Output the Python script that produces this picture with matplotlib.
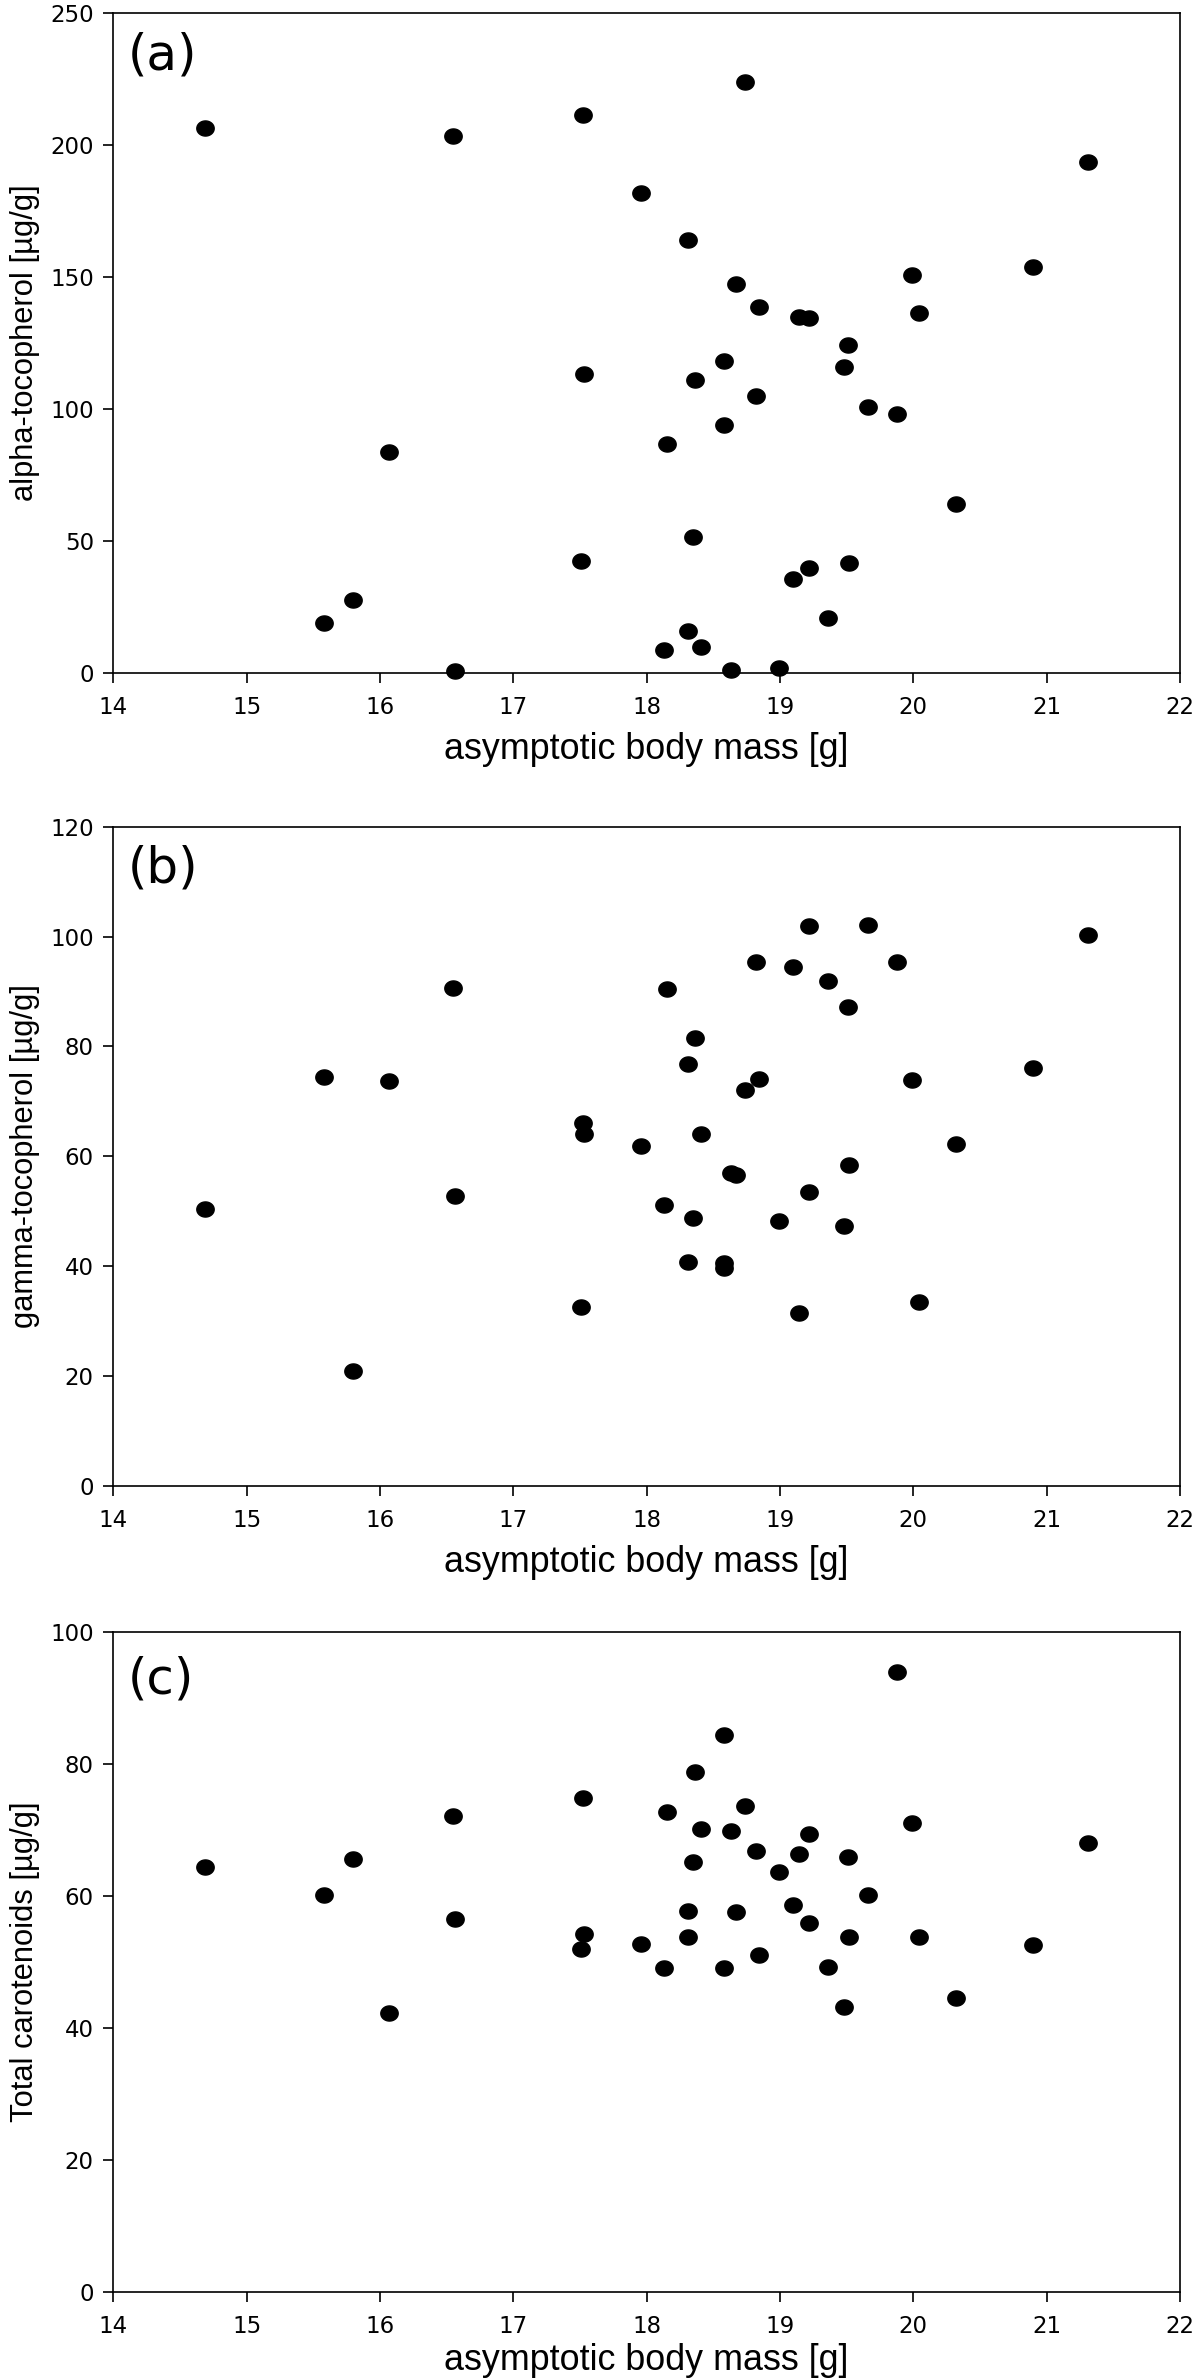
import numpy as np
import matplotlib as mpl
mpl.use('Agg')
import matplotlib.pyplot as plt
from matplotlib.path import Path

mpl.rcParams['font.family'] = ['Liberation Sans', 'DejaVu Sans']

# data -------------------------------------------------------------------------
mass = [14.69, 15.58, 15.80, 16.07, 16.55, 16.56, 17.51, 17.52, 17.53, 17.96,
        18.13, 18.15, 18.31, 18.31, 18.35, 18.36, 18.41, 18.58, 18.58, 18.63,
        18.67, 18.74, 18.82, 18.84, 18.99, 19.10, 19.14, 19.22, 19.22, 19.36,
        19.48, 19.51, 19.52, 19.66, 19.88, 19.99, 20.04, 20.32, 20.90, 21.31]

alpha_toc = [206.5, 18.8, 27.4, 83.6, 203.6, 0.8, 42.3, 211.4, 113.2, 181.8,
             8.6, 86.7, 164.2, 15.9, 51.3, 110.9, 9.6, 118.3, 94.1, 1.0,
             147.3, 223.9, 104.8, 138.6, 1.7, 35.4, 134.9, 134.4, 39.8, 20.6,
             115.8, 124.4, 41.6, 100.7, 98.2, 150.8, 136.4, 64.1, 154.0, 193.5]

gamma_toc = [50.5, 74.5, 21.0, 73.7, 90.7, 52.8, 32.6, 66.1, 64.1, 61.8,
             51.2, 90.5, 76.8, 40.7, 48.7, 81.6, 64.1, 40.5, 39.7, 57.0,
             56.6, 72.1, 95.4, 74.1, 48.2, 94.4, 31.4, 102.0, 53.6, 91.9,
             47.4, 87.2, 58.4, 102.1, 95.4, 73.9, 33.4, 62.2, 76.0, 100.2]

carot = [64.4, 60.2, 65.6, 42.2, 72.1, 56.6, 52.0, 74.9, 54.3, 52.7,
         49.1, 72.7, 57.7, 53.8, 65.2, 78.9, 70.2, 84.5, 49.1, 69.9,
         57.6, 73.7, 66.8, 51.1, 63.7, 58.6, 66.4, 69.4, 55.9, 49.2,
         43.2, 66.0, 53.8, 60.1, 94.0, 71.1, 53.8, 44.6, 52.6, 68.1]

panels = ['(a)', '(b)', '(c)']
ylabels = ['alpha-tocopherol [\u00b5g/g]', 'gamma-tocopherol [\u00b5g/g]',
           'Total carotenoids [\u00b5g/g]']
yticks = [np.arange(0, 251, 50), np.arange(0, 121, 20), np.arange(0, 101, 20)]
xticks = np.arange(14, 23, 1)

# ellipse marker (wider than tall) ---------------------------------------------
t = np.linspace(0, 2 * np.pi, 60)
ellipse = Path(np.column_stack([np.cos(t), 0.87 * np.sin(t)]), closed=True)

fig = plt.figure(figsize=(12, 23.79), dpi=100)
rects = [[0.0944, 0.71723, 0.8889, 0.27713],
         [0.0944, 0.37537, 0.8889, 0.27713],
         [0.0944, 0.03670, 0.8889, 0.27713]]
xlab_y = [-0.131, -0.131, -0.119]
tag_y = [0.936, 0.937, 0.929]

for i, ys in enumerate([alpha_toc, gamma_toc, carot]):
    ax = fig.add_axes(rects[i])
    ax.plot(mass, ys, linestyle='none', marker=ellipse, ms=12.5,
            color='black', clip_on=False)
    ax.set_xlim(14, 22)
    ax.set_ylim(yticks[i][0], yticks[i][-1])
    ax.set_xticks(xticks)
    ax.set_yticks(yticks[i])
    for sp in ax.spines.values():
        sp.set_linewidth(1.2)
    ax.tick_params(direction='out', length=7.2, width=1.2, top=False, right=False)
    ax.tick_params(axis='x', pad=9.5)
    ax.tick_params(axis='y', pad=6.8)
    for lab in ax.get_xticklabels() + ax.get_yticklabels():
        lab.set_family('DejaVu Sans')
        lab.set_fontsize(16.5)
    ax.set_ylabel(ylabels[i], fontsize=22.2)
    ax.yaxis.set_label_coords(-0.0687, 0.5)
    ax.set_xlabel('asymptotic body mass [g]', fontsize=25.8, va='baseline')
    ax.xaxis.set_label_coords(0.5, xlab_y[i])
    ax.text(0.014, tag_y[i], panels[i], transform=ax.transAxes, ha='left',
            va='center', fontsize=36, family='DejaVu Sans')

fig.savefig('out.png', dpi=100)
